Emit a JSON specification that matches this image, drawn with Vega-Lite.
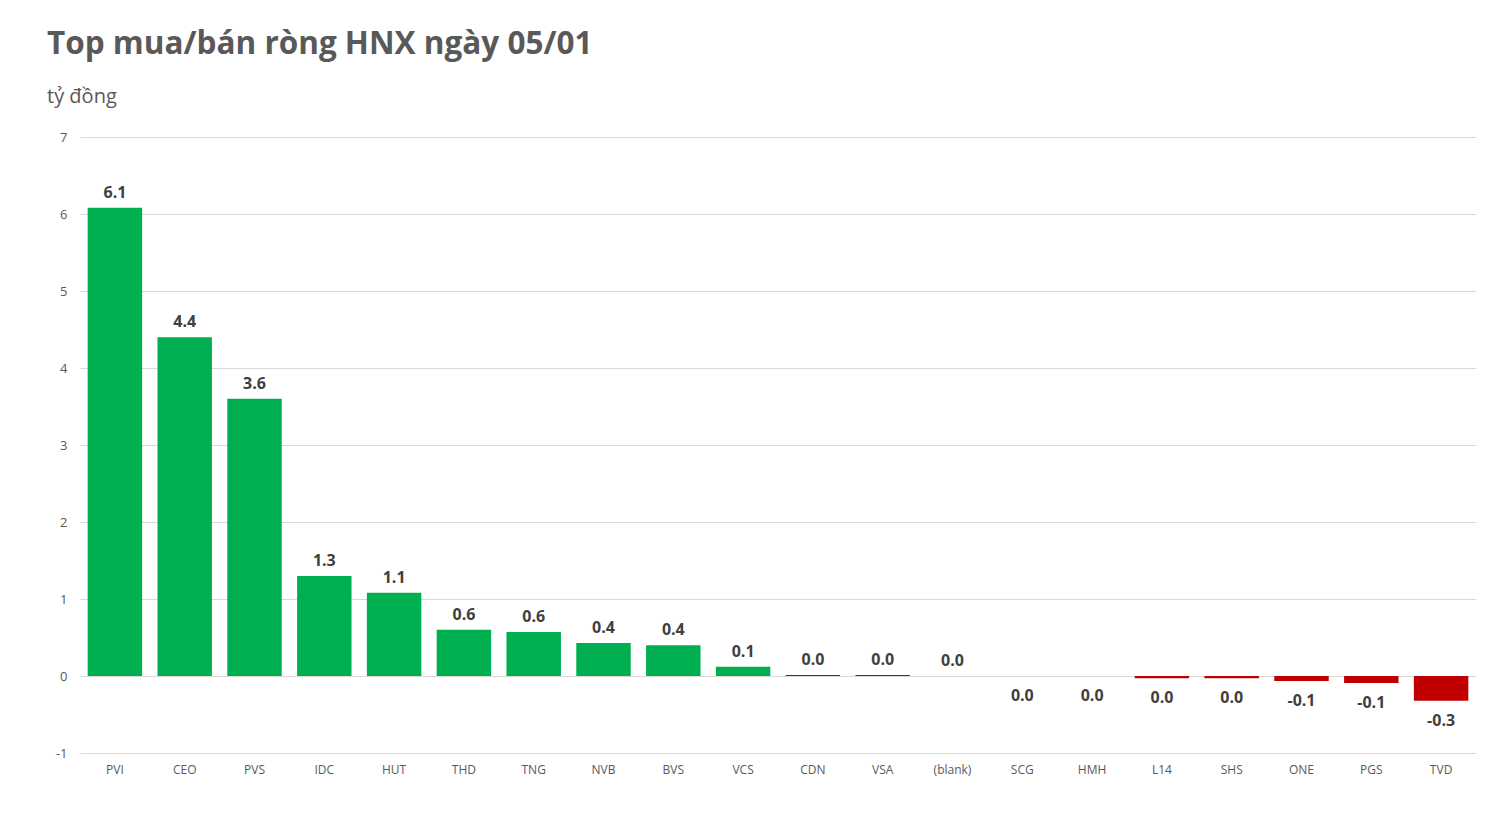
{
  "$schema": "https://vega.github.io/schema/vega-lite/v6.json",
  "autosize": {"type": "fit", "contains": "padding"},
  "width": 1509,
  "height": 825,
  "padding": {"left": 47, "top": 28, "right": 33, "bottom": 50},
  "background": "white",
  "title": {
    "text": "Top mua/bán ròng HNX ngày 05/01",
    "subtitle": "tỷ đồng",
    "anchor": "start",
    "font": "Open Sans",
    "fontSize": 31.5,
    "fontWeight": "bold",
    "color": "#595959",
    "subtitleFont": "Open Sans",
    "subtitleFontSize": 20,
    "subtitleColor": "#595959",
    "subtitlePadding": 27,
    "offset": 24
  },
  "data": {
    "values": [
      {"ma": "PVI", "value": 6.08},
      {"ma": "CEO", "value": 4.4},
      {"ma": "PVS", "value": 3.6},
      {"ma": "IDC", "value": 1.3},
      {"ma": "HUT", "value": 1.08},
      {"ma": "THD", "value": 0.6},
      {"ma": "TNG", "value": 0.57},
      {"ma": "NVB", "value": 0.43},
      {"ma": "BVS", "value": 0.4},
      {"ma": "VCS", "value": 0.12},
      {"ma": "CDN", "value": 0.012},
      {"ma": "VSA", "value": 0.012},
      {"ma": "(blank)", "value": 0},
      {"ma": "SCG", "value": -0.001},
      {"ma": "HMH", "value": -0.001},
      {"ma": "L14", "value": -0.03},
      {"ma": "SHS", "value": -0.03},
      {"ma": "ONE", "value": -0.065},
      {"ma": "PGS", "value": -0.09},
      {"ma": "TVD", "value": -0.32}
    ]
  },
  "encoding": {
    "x": {
      "field": "ma",
      "type": "nominal",
      "sort": null,
      "title": null,
      "scale": {"paddingInner": 0.22, "paddingOuter": 0.11},
      "axis": {
        "labelAngle": 0,
        "domain": false,
        "ticks": false,
        "labelPadding": 11,
        "labelFont": "Open Sans",
        "labelFontSize": 12,
        "labelColor": "#595959"
      }
    },
    "y": {
      "field": "value",
      "type": "quantitative",
      "title": null,
      "scale": {"domain": [-1, 7], "nice": false},
      "axis": {
        "values": [-1, 0, 1, 2, 3, 4, 5, 6, 7],
        "domain": false,
        "ticks": false,
        "minExtent": 33,
        "labelPadding": 13,
        "labelFont": "Open Sans",
        "labelFontSize": 13,
        "labelColor": "#595959",
        "gridColor": "#d9d9d9",
        "gridWidth": 1
      }
    }
  },
  "layer": [
    {
      "mark": {"type": "bar"},
      "encoding": {
        "y2": {"datum": 0},
        "color": {
          "condition": {"test": "datum.value > 0.05", "value": "#00B050"},
          "value": "#C00000"
        }
      }
    },
    {
      "transform": [{"filter": "datum.value >= 0"}],
      "mark": {"type": "text", "baseline": "bottom", "dy": -7, "font": "Open Sans", "fontSize": 16, "fontWeight": "bold", "color": "#404040"},
      "encoding": {"text": {"field": "value", "type": "quantitative", "format": ".1f"}}
    },
    {
      "transform": [{"filter": "datum.value < 0"}],
      "mark": {"type": "text", "baseline": "top", "dy": 12, "font": "Open Sans", "fontSize": 16, "fontWeight": "bold", "color": "#404040"},
      "encoding": {"text": {"field": "value", "type": "quantitative", "format": ".1f"}}
    }
  ],
  "config": {
    "view": {"stroke": null},
    "locale": {"number": {"decimal": ".", "thousands": ",", "grouping": [3], "currency": ["$", ""], "minus": "-"}}
  }
}
